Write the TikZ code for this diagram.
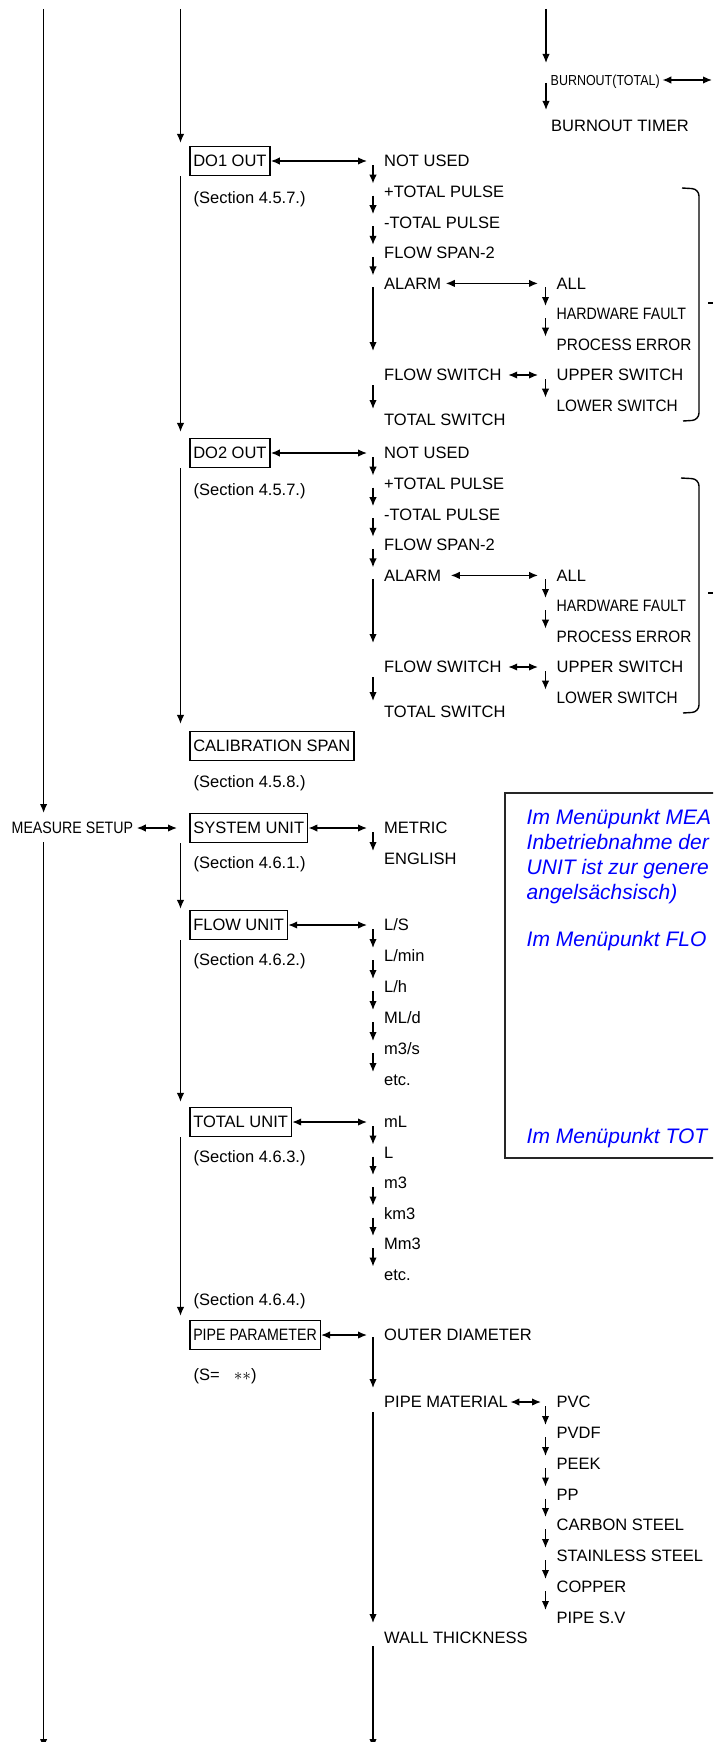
\documentclass[tikz,border=0pt]{standalone}
\usepackage{fontspec}
\setmainfont{Liberation Sans}
\newfontfamily\narrowfont[FakeStretch=0.86]{Liberation Sans}
\newfontfamily\semifont[FakeStretch=0.93]{Liberation Sans}
\usetikzlibrary{arrows.meta,calc}
\newcommand\optfont{\fontsize{16.5}{19}\selectfont}
\newcommand\notefont{\itshape\fontsize{21}{25}\selectfont}
\tikzset{
  opt/.style={anchor=west, inner sep=0pt, text height=11.8pt, text depth=0pt, font=\optfont},
  menubox/.style={opt, draw, line width=1.5pt, inner xsep=3.5pt, inner ysep=8.5pt},
  arr/.style={-{Latex[length=9pt,width=7.5pt]}},
  dbl/.style={{Latex[length=9pt,width=7.5pt]}-{Latex[length=9pt,width=7.5pt]}},
  note/.style={anchor=base west, inner sep=0pt, text=blue, font=\notefont},
}
\begin{document}
\begin{tikzpicture}[x=1pt, y=1pt, line width=1.4pt]
    \useasboundingbox (0,0) rectangle (713,-1742);
    \clip (0,0) rectangle (713,-1742);

    % Linien von oben
    \coordinate (topL) at (43.6,-9);
    \coordinate (topM) at (180.5,-9);
    \coordinate (topB) at (546,-9);

    % Burnout
    \node[opt, font={\narrowfont\fontsize{14.5}{17}\selectfont}, text height=10.4pt] (bt) at (550,-80) {BURNOUT(TOTAL)};
    \node[opt] (btm) at (550.5,-126) {BURNOUT TIMER};
    \coordinate (btR) at (712,-80);
    \draw[arr] (topB) -- ($(topB |- bt.west)+(0,17)$);
    \draw[dbl] ($(bt.east)+(2,0)$) -- (btR);
    \draw[arr] ($(topB |- bt.west)+(0,-3)$) -- ($(topB |- btm.west)+(0,16)$);

    % DO1 OUT
    \node[menubox] (do1) at (189,-161) {DO1 OUT};
    \node[opt] (do1s) at (193,-198) {(Section 4.5.7.)};
    \node[opt] (do1a) at (383.5,-161) {NOT USED};
    \node[opt] (do1b) at (383.5,-191.6) {+TOTAL PULSE};
    \node[opt] (do1c) at (383.5,-222.2) {-TOTAL PULSE};
    \node[opt] (do1d) at (383.5,-252.8) {FLOW SPAN-2};
    \node[opt] (do1e) at (383.5,-283.4) {ALARM};
    \node[opt] (do1f) at (383.5,-375) {FLOW SWITCH};
    \node[opt] (do1g) at (383.5,-420) {TOTAL SWITCH};
    \node[opt] (do1h) at (556,-283.4) {ALL};
    \node[opt, font={\narrowfont\optfont}] (do1i) at (556,-314) {HARDWARE FAULT};
    \node[opt, font={\semifont\optfont}] (do1j) at (556,-344.6) {PROCESS ERROR};
    \node[opt] (do1k) at (556,-375) {UPPER SWITCH};
    \node[opt, font={\semifont\optfont}] (do1l) at (556,-405.6) {LOWER SWITCH};
    \draw[arr] (topM) -- ($(do1.north west)+(-8.5,3)$);
    \draw[dbl] (do1.east) -- ($(do1a.west)+(-16.5,0)$);
    \draw[arr] ($(do1a.west)+(-10.5,-4)$) -- ($(do1b.west)+(-10.5,8)$);
    \draw[arr] ($(do1b.west)+(-10.5,-4)$) -- ($(do1c.west)+(-10.5,8)$);
    \draw[arr] ($(do1c.west)+(-10.5,-4)$) -- ($(do1d.west)+(-10.5,8)$);
    \draw[arr] ($(do1d.west)+(-10.5,-4)$) -- ($(do1e.west)+(-10.5,8)$);
    \draw[arr] ($(do1e.west)+(-10.5,-4)$) -- ($(do1f.west)+(-10.5,24)$);
    \draw[arr] ($(do1f.west)+(-10.5,-10)$) -- ($(do1g.west)+(-10.5,11)$);
    \draw[dbl] ($(do1e.east)+(4,0)$) -- ($(do1h.west)+(-18,0)$);
    \draw[arr] ($(do1h.west)+(-10.5,-4)$) -- ($(do1i.west)+(-10.5,8)$);
    \draw[arr] ($(do1i.west)+(-10.5,-4)$) -- ($(do1j.west)+(-10.5,8)$);
    \draw[dbl] ($(do1f.east)+(6,0)$) -- ($(do1k.west)+(-18,0)$);
    \draw[arr] ($(do1k.west)+(-10.5,-4)$) -- ($(do1l.west)+(-10.5,8)$);
    % Klammer
    \draw[rounded corners=7pt] (682,-188) -- (699,-189) -- (699,-420) -- (683,-421);
    \draw (708,-303) -- (713,-303);

    % DO2 OUT
    \node[menubox] (do2) at (189,-453) {DO2 OUT};
    \node[opt] (do2s) at (193,-490) {(Section 4.5.7.)};
    \node[opt] (do2a) at (383.5,-453) {NOT USED};
    \node[opt] (do2b) at (383.5,-483.6) {+TOTAL PULSE};
    \node[opt] (do2c) at (383.5,-514.2) {-TOTAL PULSE};
    \node[opt] (do2d) at (383.5,-544.8) {FLOW SPAN-2};
    \node[opt] (do2e) at (383.5,-575.4) {ALARM};
    \node[opt] (do2f) at (383.5,-667) {FLOW SWITCH};
    \node[opt] (do2g) at (383.5,-712) {TOTAL SWITCH};
    \node[opt] (do2h) at (556,-575.4) {ALL};
    \node[opt, font={\narrowfont\optfont}] (do2i) at (556,-606) {HARDWARE FAULT};
    \node[opt, font={\semifont\optfont}] (do2j) at (556,-636.6) {PROCESS ERROR};
    \node[opt] (do2k) at (556,-667) {UPPER SWITCH};
    \node[opt, font={\semifont\optfont}] (do2l) at (556,-697.6) {LOWER SWITCH};
    \draw[arr] ($(do1.south west)+(-8.5,0)$) -- ($(do2.north west)+(-8.5,6)$);
    \draw[dbl] (do2.east) -- ($(do2a.west)+(-16.5,0)$);
    \draw[arr] ($(do2a.west)+(-10.5,-4)$) -- ($(do2b.west)+(-10.5,8)$);
    \draw[arr] ($(do2b.west)+(-10.5,-4)$) -- ($(do2c.west)+(-10.5,8)$);
    \draw[arr] ($(do2c.west)+(-10.5,-4)$) -- ($(do2d.west)+(-10.5,8)$);
    \draw[arr] ($(do2d.west)+(-10.5,-4)$) -- ($(do2e.west)+(-10.5,8)$);
    \draw[arr] ($(do2e.west)+(-10.5,-4)$) -- ($(do2f.west)+(-10.5,24)$);
    \draw[arr] ($(do2f.west)+(-10.5,-10)$) -- ($(do2g.west)+(-10.5,11)$);
    \draw[dbl] ($(do2e.east)+(9,0)$) -- ($(do2h.west)+(-18,0)$);
    \draw[arr] ($(do2h.west)+(-10.5,-4)$) -- ($(do2i.west)+(-10.5,8)$);
    \draw[arr] ($(do2i.west)+(-10.5,-4)$) -- ($(do2j.west)+(-10.5,8)$);
    \draw[dbl] ($(do2f.east)+(6,0)$) -- ($(do2k.west)+(-18,0)$);
    \draw[arr] ($(do2k.west)+(-10.5,-4)$) -- ($(do2l.west)+(-10.5,8)$);
    % Klammer
    \draw[rounded corners=7pt] (681,-478) -- (699,-479) -- (699,-712) -- (683,-713);
    \draw (708,-593) -- (713,-593);

    % CALIBRATION SPAN
    \node[menubox] (cal) at (189,-746) {CALIBRATION SPAN};
    \node[opt] (cals) at (193,-782) {(Section 4.5.8.)};
    \draw[arr] ($(do2.south west)+(-8.5,0)$) -- ($(cal.north west)+(-8.5,7)$);

    % Hinweis
    \draw[line width=1.8pt, black!85] (505,-793) rectangle (725,-1158);
    \node[note] (n1) at (526,-824.5) {Im Menüpunkt MEA};
    \node[note] (n2) at (526,-849.5) {Inbetriebnahme der};
    \node[note] (n3) at (526,-874.5) {UNIT ist zur genere};
    \node[note] (n4) at (526,-899.5) {angelsächsisch)};
    \node[note] (n5) at (526,-946.5) {Im Menüpunkt FLO};
    \node[note] (n6) at (526,-1143.5) {Im Menüpunkt TOT};

    % MEASURE SETUP
    \node[opt, font={\narrowfont\optfont}] (ms) at (11,-828) {MEASURE SETUP};
    \coordinate (botL) at (43.6,-1748);
    \draw[arr] (topL) -- ($(topL |- ms.west)+(0,15)$);
    \draw[arr] ($(topL |- ms.west)+(0,-14)$) -- (botL);

    % SYSTEM UNIT
    \node[menubox] (sysu) at (189,-828) {SYSTEM UNIT};
    \node[opt] (syss) at (193,-863) {(Section 4.6.1.)};
    \node[opt] (met) at (383.5,-828) {METRIC};
    \node[opt] (eng) at (383.5,-859) {ENGLISH};
    \draw[dbl] ($(ms.east)+(3,0)$) -- ($(sysu.west)+(-12,0)$);
    \draw[dbl] (sysu.east) -- ($(met.west)+(-16.5,0)$);
    \draw[arr] ($(met.west)+(-10.5,-4)$) -- ($(eng.west)+(-10.5,8)$);

    % FLOW UNIT
    \node[menubox] (flow) at (189,-925) {FLOW UNIT};
    \node[opt] (flows) at (193,-960) {(Section 4.6.2.)};
    \node[opt] (fa) at (383.5,-925) {L/S};
    \node[opt] (fb) at (383.5,-956) {L/min};
    \node[opt] (fc) at (383.5,-987) {L/h};
    \node[opt] (fd) at (383.5,-1018) {ML/d};
    \node[opt] (fe) at (383.5,-1049) {m3/s};
    \node[opt] (ff) at (383.5,-1080) {etc.};
    \draw[arr] ($(sysu.south west)+(-8.5,0)$) -- ($(flow.north west)+(-8.5,1)$);
    \draw[dbl] (flow.east) -- ($(fa.west)+(-16.5,0)$);
    \draw[arr] ($(fa.west)+(-10.5,-4)$) -- ($(fb.west)+(-10.5,8)$);
    \draw[arr] ($(fb.west)+(-10.5,-4)$) -- ($(fc.west)+(-10.5,8)$);
    \draw[arr] ($(fc.west)+(-10.5,-4)$) -- ($(fd.west)+(-10.5,8)$);
    \draw[arr] ($(fd.west)+(-10.5,-4)$) -- ($(fe.west)+(-10.5,8)$);
    \draw[arr] ($(fe.west)+(-10.5,-4)$) -- ($(ff.west)+(-10.5,8)$);

    % TOTAL UNIT
    \node[menubox] (tot) at (189,-1122) {TOTAL UNIT};
    \node[opt] (tots) at (193,-1157) {(Section 4.6.3.)};
    \node[opt] (ta) at (383.5,-1122) {mL};
    \node[opt] (tb) at (383.5,-1152.5) {L};
    \node[opt] (tc) at (383.5,-1183) {m3};
    \node[opt] (td) at (383.5,-1213.5) {km3};
    \node[opt] (te) at (383.5,-1244) {Mm3};
    \node[opt] (tf) at (383.5,-1274.5) {etc.};
    \draw[arr] ($(flow.south west)+(-8.5,0)$) -- ($(tot.north west)+(-8.5,5)$);
    \draw[dbl] (tot.east) -- ($(ta.west)+(-16.5,0)$);
    \draw[arr] ($(ta.west)+(-10.5,-4)$) -- ($(tb.west)+(-10.5,8)$);
    \draw[arr] ($(tb.west)+(-10.5,-4)$) -- ($(tc.west)+(-10.5,8)$);
    \draw[arr] ($(tc.west)+(-10.5,-4)$) -- ($(td.west)+(-10.5,8)$);
    \draw[arr] ($(td.west)+(-10.5,-4)$) -- ($(te.west)+(-10.5,8)$);
    \draw[arr] ($(te.west)+(-10.5,-4)$) -- ($(tf.west)+(-10.5,8)$);

    % PIPE PARAMETER
    \node[opt] (pipes) at (193,-1300) {(Section 4.6.4.)};
    \node[menubox, font={\narrowfont\optfont}] (pipe) at (189,-1335) {PIPE PARAMETER};
    \node[opt] (pipet) at (193,-1375) {(S=\hspace{14pt}$\ast\ast$)};
    \node[opt] (od) at (383.5,-1335) {OUTER DIAMETER};
    \node[opt] (pm) at (383.5,-1402) {PIPE MATERIAL};
    \node[opt] (wt) at (383.5,-1638) {WALL THICKNESS};
    \node[opt] (pa) at (556,-1402) {PVC};
    \node[opt] (pb) at (556,-1433) {PVDF};
    \node[opt] (pc) at (556,-1464) {PEEK};
    \node[opt] (pd) at (556,-1494.5) {PP};
    \node[opt] (pe) at (556,-1525) {CARBON STEEL};
    \node[opt] (pf) at (556,-1556) {STAINLESS STEEL};
    \node[opt] (pg) at (556,-1587) {COPPER};
    \node[opt] (ph) at (556,-1618) {PIPE S.V};
    \coordinate (botM) at (373,-1748);
    \draw[arr] ($(tot.south west)+(-8.5,0)$) -- ($(pipe.north west)+(-8.5,4)$);
    \draw[dbl] (pipe.east) -- ($(od.west)+(-16.5,0)$);
    \draw[arr] ($(od.west)+(-10.5,-2)$) -- ($(pm.west)+(-10.5,14)$);
    \draw[arr] ($(pm.west)+(-10.5,-10)$) -- ($(wt.west)+(-10.5,15)$);
    \draw[arr] ($(wt.west)+(-10.5,-8)$) -- (botM);
    \draw[dbl] ($(pm.east)+(2,0)$) -- ($(pa.west)+(-15,0)$);
    \draw[arr] ($(pa.west)+(-10.5,-4)$) -- ($(pb.west)+(-10.5,8)$);
    \draw[arr] ($(pb.west)+(-10.5,-4)$) -- ($(pc.west)+(-10.5,8)$);
    \draw[arr] ($(pc.west)+(-10.5,-4)$) -- ($(pd.west)+(-10.5,8)$);
    \draw[arr] ($(pd.west)+(-10.5,-4)$) -- ($(pe.west)+(-10.5,8)$);
    \draw[arr] ($(pe.west)+(-10.5,-4)$) -- ($(pf.west)+(-10.5,8)$);
    \draw[arr] ($(pf.west)+(-10.5,-4)$) -- ($(pg.west)+(-10.5,8)$);
    \draw[arr] ($(pg.west)+(-10.5,-4)$) -- ($(ph.west)+(-10.5,8)$);
\end{tikzpicture}
\end{document}
